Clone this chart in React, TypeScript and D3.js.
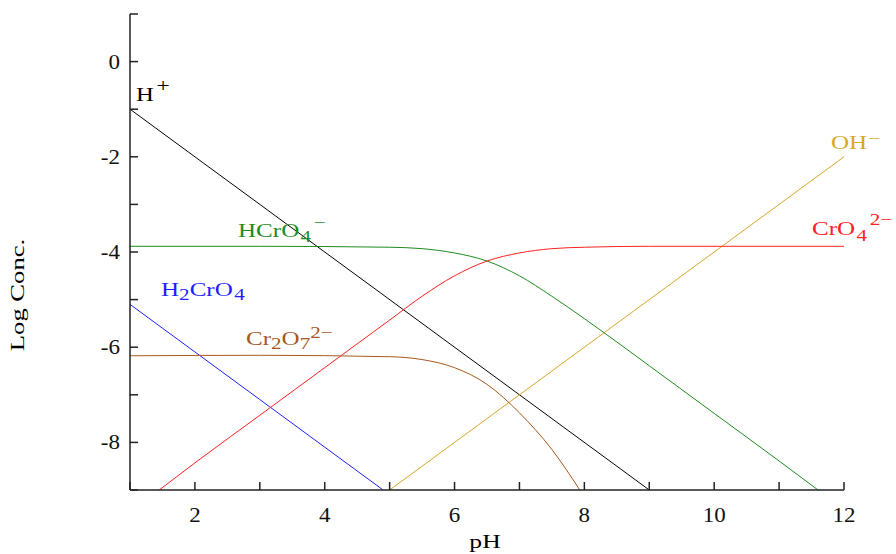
import React from "react";
import * as d3 from "d3";

// pH values and log concentrations
const hPlus = [
  { ph: 1, v: -1 },
  { ph: 9, v: -9 },
];
const ohMinus = [
  { ph: 5, v: -9 },
  { ph: 12, v: -2 },
];
const h2cro4 = [
  { ph: 1, v: -5.1 },
  { ph: 2, v: -6.1 },
  { ph: 3, v: -7.1 },
  { ph: 4, v: -8.1 },
  { ph: 4.9, v: -9.0 },
];
const hcro4 = [
  { ph: 1, v: -3.88 },
  { ph: 3, v: -3.88 },
  { ph: 5, v: -3.9 },
  { ph: 5.5, v: -3.93 },
  { ph: 6, v: -4.02 },
  { ph: 6.5, v: -4.19 },
  { ph: 7, v: -4.5 },
  { ph: 7.5, v: -4.93 },
  { ph: 8, v: -5.4 },
  { ph: 8.5, v: -5.89 },
  { ph: 9, v: -6.39 },
  { ph: 10, v: -7.39 },
  { ph: 11, v: -8.39 },
  { ph: 11.6, v: -9.0 },
];
const cro4 = [
  { ph: 1.45, v: -9.0 },
  { ph: 2, v: -8.43 },
  { ph: 3, v: -7.43 },
  { ph: 4, v: -6.43 },
  { ph: 5, v: -5.43 },
  { ph: 5.5, v: -4.93 },
  { ph: 6, v: -4.5 },
  { ph: 6.5, v: -4.19 },
  { ph: 7, v: -4.02 },
  { ph: 7.5, v: -3.93 },
  { ph: 8, v: -3.9 },
  { ph: 9, v: -3.88 },
  { ph: 12, v: -3.88 },
];
const cr2o7 = [
  { ph: 1, v: -6.18 },
  { ph: 3, v: -6.17 },
  { ph: 5, v: -6.2 },
  { ph: 5.5, v: -6.26 },
  { ph: 6, v: -6.43 },
  { ph: 6.5, v: -6.78 },
  { ph: 7, v: -7.38 },
  { ph: 7.5, v: -8.15 },
  { ph: 7.93, v: -9.0 },
];

const xTicks = [1, 2, 3, 4, 5, 6, 7, 8, 9, 10, 11, 12];
const xLabels = [2, 4, 6, 8, 10, 12];
const yTicks = [1, 0, -1, -2, -3, -4, -5, -6, -7, -8, -9];
const yLabels = [0, -2, -4, -6, -8];

const FONT = "'Liberation Serif', 'Times New Roman', serif";

export default function App() {
  const x = d3.scaleLinear().domain([1, 12]).range([130, 844]);
  const y = d3.scaleLinear().domain([-9, 1]).range([490, 14]);

  const line = d3
    .line<{ ph: number; v: number }>()
    .x((d) => x(d.ph))
    .y((d) => y(d.v))
    .curve(d3.curveMonotoneX);

  const series = [
    { data: hPlus, color: "#000000" },
    { data: ohMinus, color: "#d9a628" },
    { data: h2cro4, color: "#1f1fff" },
    { data: hcro4, color: "#1e8c1e" },
    { data: cro4, color: "#ff2020" },
    { data: cr2o7, color: "#a8581e" },
  ];

  const stretch = (px: number, py: number, s = 1.15) =>
    `translate(${px},${py}) scale(${s},1)`;

  return (
    <svg
      width={896}
      height={554}
      style={{ position: "absolute", left: 0, top: 0, background: "#fff" }}
      fontFamily={FONT}
    >
      <defs>
        <clipPath id="plot">
          <rect x={130} y={14} width={714} height={476} />
        </clipPath>
      </defs>

      <g clipPath="url(#plot)" fill="none" strokeWidth={1}>
        {series.map((s, i) => (
          <path key={i} d={line(s.data) ?? ""} stroke={s.color} />
        ))}
      </g>

      {/* axes */}
      <g stroke="#222" strokeWidth={1.5} fill="none">
        <line x1={130} y1={y(1)} x2={130} y2={490} />
        <line x1={130} y1={490} x2={844} y2={490} />
        {yTicks.map((t) => (
          <line key={t} x1={130} x2={138} y1={y(t)} y2={y(t)} />
        ))}
        {xTicks.map((t) => (
          <line key={t} x1={x(t)} x2={x(t)} y1={490} y2={482} />
        ))}
      </g>
      <g fontSize={20} fill="#111">
        {yLabels.map((t) => (
          <text key={t} transform={stretch(120, y(t) + 7)} textAnchor="end">
            {t === 0 ? "0" : "-" + Math.abs(t)}
          </text>
        ))}
        {xLabels.map((t) => (
          <text key={t} transform={stretch(x(t), 522)} textAnchor="middle">
            {t}
          </text>
        ))}
      </g>
      <text
        transform={stretch(485, 548, 1.35)}
        textAnchor="middle"
        fontSize={19}
      >
        pH
      </text>
      <text
        transform="translate(24,295) rotate(-90) scale(1.4,1)"
        textAnchor="middle"
        fontSize={19}
      >
        Log Conc.
      </text>

      {/* species labels */}
      <g fontSize={19}>
        <text transform={stretch(136, 101, 1.3)} fill="#000">
          H<tspan dx={2} dy={-9} fontSize={18}>+</tspan>
        </text>
        <text transform={stretch(238, 237, 1.32)} fill="#1e8c1e">
          HCrO<tspan dx={1} dy={5} fontSize={16}>4</tspan>
          <tspan dx={2} dy={-14} fontSize={16}>−</tspan>
        </text>
        <text transform={stretch(161, 296, 1.32)} fill="#1f1fff">
          H<tspan dy={4} fontSize={16}>2</tspan>
          <tspan dy={-4}>CrO</tspan>
          <tspan dx={1} dy={4} fontSize={16}>4</tspan>
        </text>
        <text transform={stretch(246, 345, 1.32)} fill="#a8581e">
          Cr<tspan dy={4} fontSize={16}>2</tspan>
          <tspan dy={-4}>O</tspan>
          <tspan dy={4} fontSize={16}>7</tspan>
          <tspan dy={-11} fontSize={16}>2−</tspan>
        </text>
        <text transform={stretch(831, 149, 1.32)} fill="#d9a628">
          OH<tspan dx={1} dy={-5} fontSize={16}>−</tspan>
        </text>
        <text transform={stretch(812, 235, 1.32)} fill="#ff2020">
          CrO<tspan dx={1} dy={6} fontSize={16}>4</tspan>
          <tspan dx={2} dy={-16} fontSize={16}>2−</tspan>
        </text>
      </g>
    </svg>
  );
}
